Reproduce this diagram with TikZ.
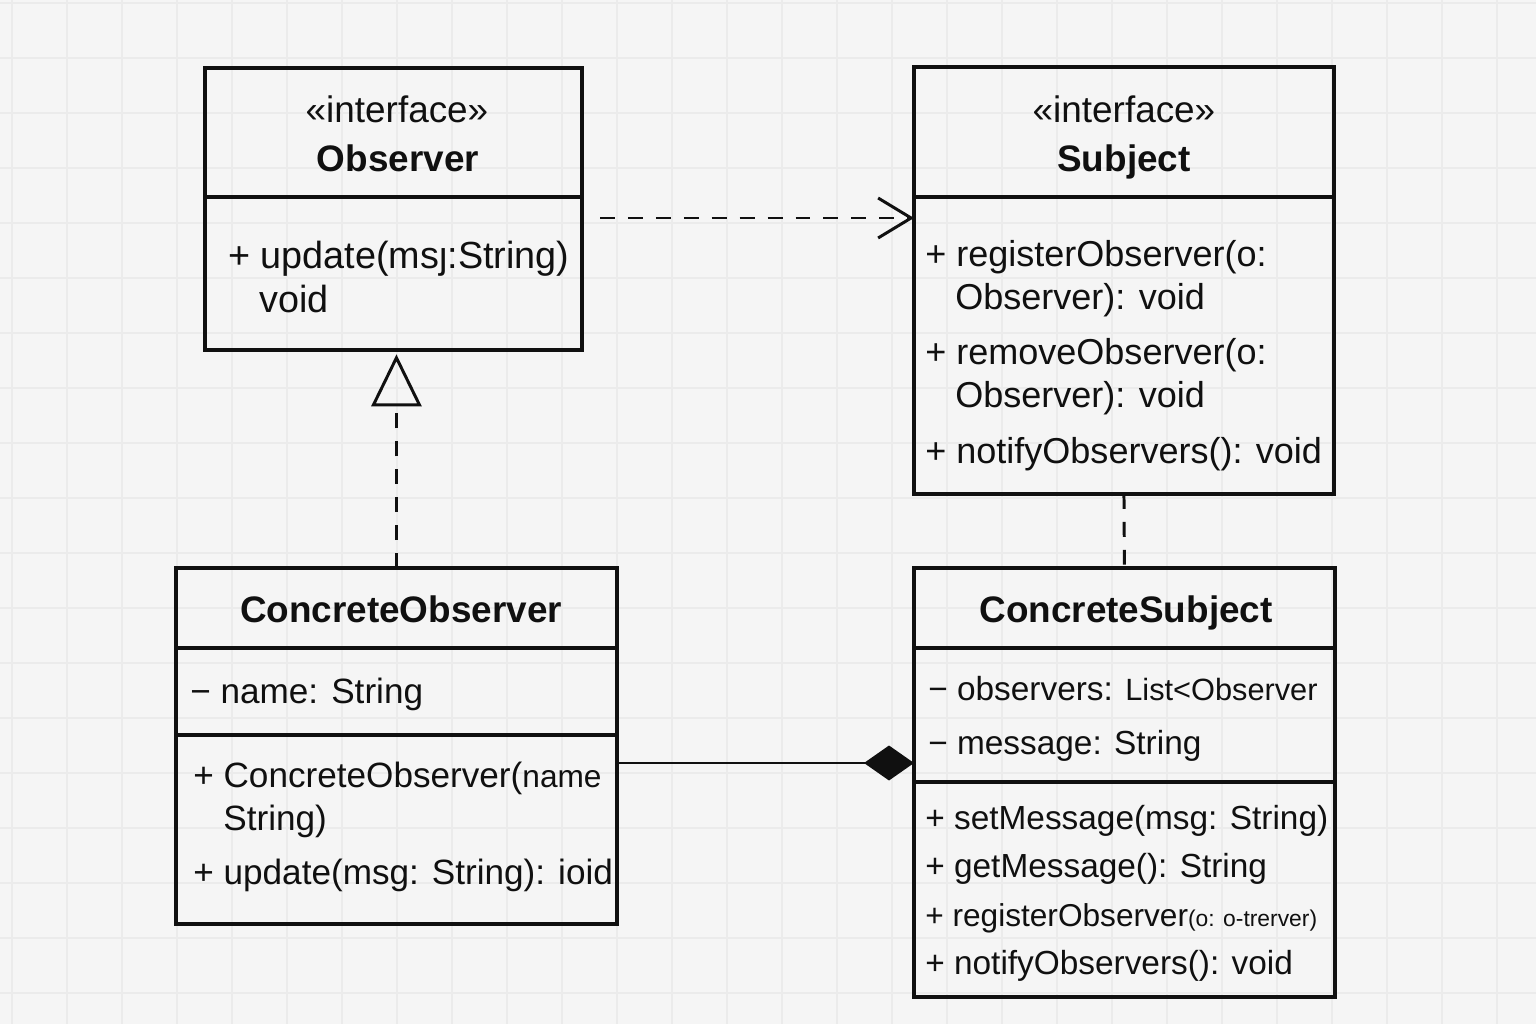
\documentclass[tikz,border=0pt]{standalone}
\usepackage{fontspec}
\setmainfont{Liberation Sans}
\usetikzlibrary{arrows.meta}
\definecolor{paper}{HTML}{F5F5F5}
\definecolor{gridc}{HTML}{EBEBEB}
\definecolor{ink}{HTML}{101010}
\begin{document}
\begin{tikzpicture}[x=0.02cm, y=-0.02cm,
	cls/.style={draw=ink, line width=2.1pt, inner sep=0pt, outer sep=0pt, anchor=north west},
	sep/.style={draw=ink, line width=2pt},
	head/.style={font=\fontsize{21}{25}\selectfont, text=ink, anchor=base, inner sep=0pt},
	titl/.style={head, font=\fontsize{21}{25}\selectfont\bfseries},
	mem/.style={font=\fontsize{19}{23}\selectfont, text=ink, anchor=base west, inner sep=0pt},
	memb/.style={mem, font=\fontsize{20.5}{24}\selectfont},
	dashline/.style={draw=ink, line width=1.7pt, dash pattern=on 8.5pt off 7.4pt}]
	\useasboundingbox (0,0) rectangle (1536,1024);
	\fill[paper] (0,0) rectangle (1536,1024);
	\foreach \gx in {12,67,...,1536}
		\draw[gridc, line width=0.9pt] (\gx,0) -- (\gx,1024);
	\foreach \gy in {3,58,...,1024}
		\draw[gridc, line width=0.9pt] (0,\gy) -- (1536,\gy);

	\node[cls, minimum width=7.54cm, minimum height=5.64cm] (obs) at (205,68) {};
	\draw[sep] (obs.north west) ++(0,129) -- ++(377,0);
	\node[head] (obsst) at (397,123) {«interface»};
	\node[titl] (obst) at (398,172) {Observer};
	\node[mem, font=\fontsize{21.5}{25}\selectfont] (obsm1) at (228,268) {+ update(msȷ:String)};
	\node[mem, font=\fontsize{21.5}{25}\selectfont] (obsm1b) at (259,312) {void};

	\node[cls, minimum width=8.4cm, minimum height=8.54cm] (sub) at (914,67) {};
	\draw[sep] (sub.north west) ++(0,130) -- ++(420,0);
	\node[head] (subst) at (1124,123) {«interface»};
	\node[titl] (subt) at (1124,172) {Subject};
	\node[memb] (subm1) at (925,266) {+ registerObserver(o:};
	\node[memb] (subm1b) at (955,309) {Observer): void};
	\node[memb] (subm2) at (925,364) {+ removeObserver(o:};
	\node[memb] (subm2b) at (955,407) {Observer): void};
	\node[memb] (subm3) at (925,463) {+ notifyObservers(): void};

	\node[cls, minimum width=8.82cm, minimum height=7.12cm] (cobs) at (176,568) {};
	\draw[sep] (cobs.north west) ++(0,80) -- ++(441,0);
	\draw[sep] (cobs.north west) ++(0,167) -- ++(441,0);
	\node[titl] (cobst) at (401,622) {ConcreteObserver};
	\node[memb, font=\fontsize{20}{24}\selectfont] (cobsa1) at (190,703) {− name: String};
	\node[memb, font=\fontsize{20}{24}\selectfont] (cobsm1) at (193,787) {+ ConcreteObserver({\fontsize{18}{21}\selectfont name}};
	\node[memb, font=\fontsize{20}{24}\selectfont] (cobsm1b) at (223,830) {String)};
	\node[memb, font=\fontsize{20}{24}\selectfont] (cobsm2) at (193,884) {+ update(msg: String): ioid};

	\node[cls, minimum width=8.42cm, minimum height=8.58cm] (csub) at (914,568) {};
	\draw[sep] (csub.north west) ++(0,80) -- ++(421,0);
	\draw[sep] (csub.north west) ++(0,214) -- ++(421,0);
	\node[titl] (csubt) at (1126,622) {ConcreteSubject};
	\node[mem] (csuba1) at (928,700) {− observers: {\fontsize{17.5}{21}\selectfont List<Observer}};
	\node[mem] (csuba2) at (928,754) {− message: String};
	\node[mem] (csubm1) at (925,829) {+ setMessage(msg: String)};
	\node[mem] (csubm2) at (925,877) {+ getMessage(): String};
	\node[mem] (csubm3) at (925,926) {\fontsize{18}{22}\selectfont + registerObserver{\fontsize{13}{16}\selectfont(o: o-trerver)}};
	\node[mem] (csubm4) at (925,974) {+ notifyObservers(): void};

	\coordinate (depfrom) at (600,218);
	\coordinate (compy) at (0,763);
	\draw[dashline, -{Straight Barb[length=0.66cm, width=0.8cm]}] (depfrom) -- (depfrom -| sub.west);
	\draw[dashline, -{Triangle[open, length=1.04cm, width=1cm]}] (cobs.north) -- ([yshift=-2.5pt]cobs.north |- obs.south);
	\draw[dashline] (sub.south) -- (csub.north);
	\draw[draw=ink, line width=1.7pt, -{Diamond[length=1cm, width=0.7cm]}] (cobs.east |- compy) -- (csub.west |- compy);
\end{tikzpicture}
\end{document}
